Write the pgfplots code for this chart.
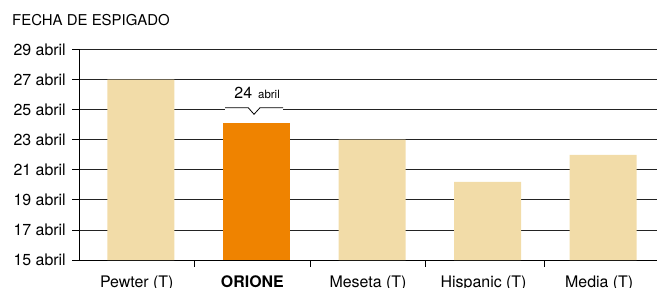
\documentclass[border=0pt]{standalone}
\usepackage{pgfplots}
\pgfplotsset{compat=1.18}
\usepackage{fontspec}
\setmainfont{TeX Gyre Heros}
\definecolor{beige}{RGB}{242,220,168}
\definecolor{naranja}{RGB}{239,131,0}
\definecolor{gridc}{RGB}{35,35,35}
\begin{document}
\begin{tikzpicture}[x=1bp,y=1bp]
\path[use as bounding box] (0,0) rectangle (658,287);
\node[anchor=base west, inner sep=0pt, font=\fontsize{15}{18}\selectfont] at (12,262) {FECHA DE ESPIGADO};
\begin{axis}[
  at={(79bp,27bp)}, anchor=south west, scale only axis,
  width=578bp, height=210.5bp,
  xmin=-0.5, xmax=4.5, ymin=15, ymax=29,
  clip mode=individual,
  axis x line*=bottom, axis y line*=left,
  axis line style={black, line width=0.8bp, -},
  ytick={15,17,19,21,23,25,27,29},
  yticklabels={15 abril,17 abril,19 abril,21 abril,23 abril,25 abril,27 abril,29 abril},
  ymajorgrids, grid style={gridc, line width=0.8bp},
  major tick length=7bp, tick align=outside,
  ytick style={black, line width=0.8bp},
  xtick={0,1,2,3,4},
  xticklabels={Pewter (T),\textbf{ORIONE},Meseta (T),Hispanic (T),Media (T)},
  xtick style={draw=none},
  yticklabel style={font=\fontsize{16}{19}\selectfont, anchor=east, inner sep=0pt, xshift=-6bp},
  xticklabel style={font=\fontsize{16}{19}\selectfont, anchor=base, inner sep=0pt, yshift=-20bp},
  ybar, bar width=67bp,
]
\addplot[fill=beige, draw=none, bar shift=4bp] coordinates {(0,27.0) (2,23.0) (3,20.2) (4,22.0)};
\addplot[fill=naranja, draw=none, bar shift=4bp] coordinates {(1,24.1)};
% category separator ticks
\draw[black, line width=0.8bp] (axis cs:0.5,15) -- ++(0bp,-7bp);
\draw[black, line width=0.8bp] (axis cs:1.5,15) -- ++(0bp,-7bp);
\draw[black, line width=0.8bp] (axis cs:2.5,15) -- ++(0bp,-7bp);
\draw[black, line width=0.8bp] (axis cs:3.53,15) -- ++(0bp,-7bp);
% callout
\fill[white] (axis cs:0.763,24.88) rectangle (axis cs:1.265,25.13);
\draw[black, line width=0.8bp] (axis cs:0.763,25.13) -- (axis cs:0.964,25.13) -- (axis cs:1.014,24.69) -- (axis cs:1.066,25.13) -- (axis cs:1.265,25.13);
\node[anchor=base west, inner sep=0pt] at (axis cs:0.843,25.71) {\fontsize{16}{19}\selectfont 24\hspace{6bp}\fontsize{11.5}{13}\selectfont abril};
\end{axis}
\end{tikzpicture}
\end{document}
